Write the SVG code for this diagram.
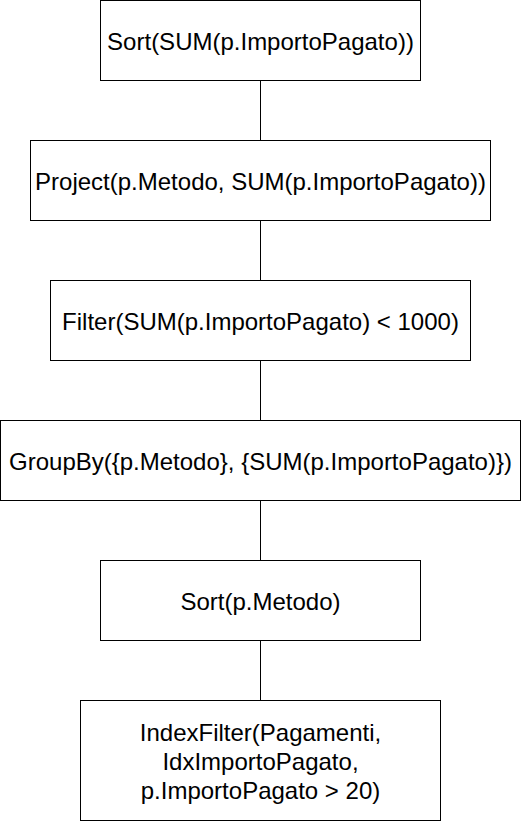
<svg xmlns="http://www.w3.org/2000/svg" width="521" height="821" viewBox="0 0 521 821">
<style>
.box{fill:#fff;stroke:#000;stroke-width:1}
.lbl{font-family:"Liberation Sans",Arial,sans-serif;font-size:24px;fill:#000;text-anchor:middle}
.edge{stroke:#000;stroke-width:1;fill:none}
</style>
<rect width="521" height="821" fill="#fff"/>
<g id="connectors">
<line class="edge" x1="260.5" y1="80.5" x2="260.5" y2="140.5"/>
<line class="edge" x1="260.5" y1="220.5" x2="260.5" y2="280.5"/>
<line class="edge" x1="260.5" y1="360.5" x2="260.5" y2="420.5"/>
<line class="edge" x1="260.5" y1="500.5" x2="260.5" y2="560.5"/>
<line class="edge" x1="260.5" y1="640.5" x2="260.5" y2="700.5"/>
</g>
<g id="n1"><rect class="box" x="100.5" y="0.5" width="320" height="80"/><text class="lbl" x="260.5" y="49.5">Sort(SUM(p.ImportoPagato))</text></g>
<g id="n2"><rect class="box" x="30.5" y="140.5" width="460" height="80"/><text class="lbl" x="260.5" y="189.5">Project(p.Metodo, SUM(p.ImportoPagato))</text></g>
<g id="n3"><rect class="box" x="50.5" y="280.5" width="420" height="80"/><text class="lbl" x="260.5" y="329.5">Filter(SUM(p.ImportoPagato) &lt; 1000)</text></g>
<g id="n4"><rect class="box" x="0.5" y="420.5" width="520" height="80"/><text class="lbl" x="260.5" y="469.5">GroupBy({p.Metodo}, {SUM(p.ImportoPagato)})</text></g>
<g id="n5"><rect class="box" x="100.5" y="560.5" width="320" height="80"/><text class="lbl" x="260.5" y="609.5">Sort(p.Metodo)</text></g>
<g id="n6"><rect class="box" x="80.5" y="700.5" width="360" height="120"/><text class="lbl" x="260.5" y="741"><tspan x="260.5">IndexFilter(Pagamenti,</tspan><tspan x="260.5" dy="28.8">IdxImportoPagato,</tspan><tspan x="260.5" dy="28.8">p.ImportoPagato &gt; 20)</tspan></text></g>
</svg>
